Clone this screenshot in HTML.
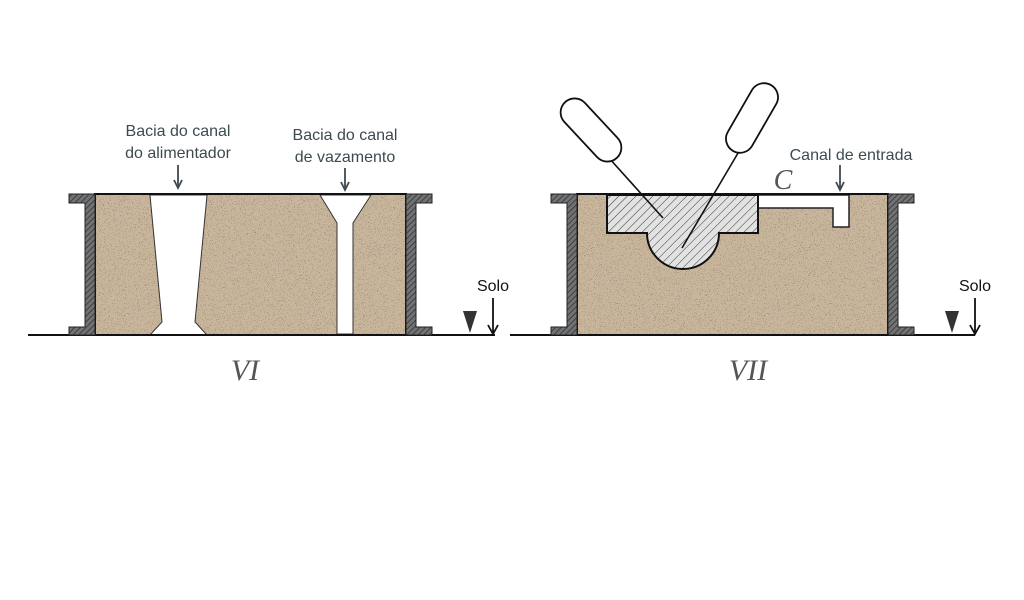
<!DOCTYPE html>
<html><head><meta charset="utf-8"><style>
html,body{margin:0;padding:0;background:#fff;width:1024px;height:600px;overflow:hidden}
svg{display:block}
.lbl{font-family:"Liberation Sans",sans-serif;font-size:16px;fill:#3d4a50}
.rom{font-family:"Liberation Serif",serif;font-style:italic;font-size:30px;fill:#555}
</style></head><body>
<svg width="1024" height="600" viewBox="0 0 1024 600" xmlns="http://www.w3.org/2000/svg">
<defs>
<filter id="noise" x="0" y="0" width="100%" height="100%">
<feTurbulence type="fractalNoise" baseFrequency="1.2" numOctaves="2" seed="5" result="t"/>
<feColorMatrix in="t" type="matrix" values="0 0 0 0 0.25  0 0 0 0 0.2  0 0 0 0 0.15  -22 0 0 0 7.5" result="d"/>
<feComposite in="d" in2="SourceGraphic" operator="in" result="dd"/>
<feMerge><feMergeNode in="SourceGraphic"/><feMergeNode in="dd"/></feMerge>
</filter>
<pattern id="wh" width="4" height="4" patternUnits="userSpaceOnUse" patternTransform="rotate(45)">
<rect width="4" height="4" fill="#707274"/><line x1="0" y1="0" x2="0" y2="4" stroke="#2a2a2a" stroke-width="1.4"/>
</pattern>
<pattern id="ph" width="6" height="6" patternUnits="userSpaceOnUse" patternTransform="rotate(45)">
<rect width="6" height="6" fill="#e2e2e2"/><line x1="0" y1="0" x2="0" y2="6" stroke="#333" stroke-width="1"/>
</pattern>
</defs>

<!-- LEFT -->
<line x1="28" y1="335" x2="495" y2="335" stroke="#111" stroke-width="2"/>
<rect x="95" y="194" width="311" height="141" fill="#c8b59b" filter="url(#noise)"/>
<path d="M150,195 L207,195 L195,322 L207,335 L150,335 L162,322 Z" fill="#fff" stroke="#333" stroke-width="1"/>
<path d="M320,195 L371,195 L353,223 L353,334 L337,334 L337,223 Z" fill="#fff" stroke="#333" stroke-width="1"/>
<rect x="95" y="194" width="311" height="141" fill="none" stroke="#111" stroke-width="2"/>
<path d="M69,194 H95 V335 H69 V327 H85 V203 H69 Z" fill="url(#wh)" stroke="#222" stroke-width="1"/>
<path d="M432,194 H406 V335 H432 V327 H416 V203 H432 Z" fill="url(#wh)" stroke="#222" stroke-width="1"/>
<text class="lbl" x="178" y="136" text-anchor="middle">Bacia do canal</text>
<text class="lbl" x="178" y="158" text-anchor="middle">do alimentador</text>
<text class="lbl" x="345" y="140" text-anchor="middle">Bacia do canal</text>
<text class="lbl" x="345" y="162" text-anchor="middle">de vazamento</text>
<g stroke="#3d4a50" stroke-width="1.8" fill="none">
<line x1="178" y1="165" x2="178" y2="188"/><path d="M174,180 L178,188 L182,180"/>
<line x1="345" y1="168" x2="345" y2="190"/><path d="M341,182 L345,190 L349,182"/>
<line x1="840" y1="165" x2="840" y2="190"/><path d="M836,182 L840,190 L844,182"/>
</g>
<text class="lbl" x="493" y="291" text-anchor="middle" style="fill:#111">Solo</text>
<line x1="493" y1="298" x2="493" y2="334" stroke="#111" stroke-width="1.8"/>
<path d="M488,325 L493,334 L498,325" fill="none" stroke="#111" stroke-width="1.8"/>
<path d="M463,311 L477,311 L470,333 Z" fill="#333"/>
<text class="rom" x="245" y="380" text-anchor="middle">VI</text>

<!-- RIGHT -->
<line x1="510" y1="335" x2="975" y2="335" stroke="#111" stroke-width="2"/>
<rect x="577" y="194" width="311" height="141" fill="#c8b59b" filter="url(#noise)"/>
<path d="M758,195 H849 V227 H833 V208 H758 Z" fill="#fff" stroke="#222" stroke-width="1.5"/>
<path d="M607,195 H758 V233 H719 A36,36 0 0 1 647,233 H607 Z" fill="url(#ph)" stroke="#111" stroke-width="2"/>
<rect x="577" y="194" width="311" height="141" fill="none" stroke="#111" stroke-width="2"/>
<path d="M551,194 H577 V335 H551 V327 H567 V203 H551 Z" fill="url(#wh)" stroke="#222" stroke-width="1"/>
<path d="M914,194 H888 V335 H914 V327 H898 V203 H914 Z" fill="url(#wh)" stroke="#222" stroke-width="1"/>
<!-- handles -->
<line x1="609" y1="158" x2="663" y2="218" stroke="#111" stroke-width="1.6"/>
<rect x="553" y="116" width="76" height="28" rx="14" fill="#fff" stroke="#111" stroke-width="1.8" transform="rotate(47 591 130)"/>
<line x1="741" y1="148" x2="682" y2="248" stroke="#111" stroke-width="1.6"/>
<rect x="714" y="104" width="76" height="28" rx="14" fill="#fff" stroke="#111" stroke-width="1.8" transform="rotate(-60 752 118)"/>
<text class="lbl" x="851" y="160" text-anchor="middle">Canal de entrada</text>
<text class="rom" x="783" y="189" text-anchor="middle" style="font-size:28px">C</text>
<text class="lbl" x="975" y="291" text-anchor="middle" style="fill:#111">Solo</text>
<line x1="975" y1="298" x2="975" y2="334" stroke="#111" stroke-width="1.8"/>
<path d="M970,325 L975,334 L980,325" fill="none" stroke="#111" stroke-width="1.8"/>
<path d="M945,311 L959,311 L952,333 Z" fill="#333"/>
<text class="rom" x="748" y="380" text-anchor="middle">VII</text>
</svg>
</body></html>
